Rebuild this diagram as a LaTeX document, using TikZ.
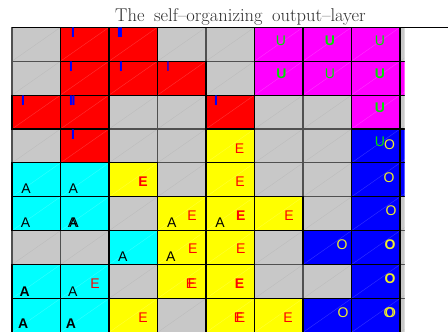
\documentclass[tikz,border=0pt]{standalone}
\usepackage{fontspec}
\setsansfont{Liberation Sans}
\definecolor{cG}{RGB}{200,200,200}
\definecolor{cR}{RGB}{255,0,0}
\definecolor{cM}{RGB}{255,0,255}
\definecolor{cB}{RGB}{0,0,255}
\definecolor{cC}{RGB}{0,255,255}
\definecolor{cY}{RGB}{255,255,0}
\definecolor{ugreen}{RGB}{0,225,0}
\definecolor{oyellow}{RGB}{240,240,40}
\definecolor{gridgray}{RGB}{80,80,80}
\definecolor{titlegray}{RGB}{45,45,45}
\tikzset{
  kG/.style={draw=none}, kR/.style={draw=black}, kM/.style={draw=black},
  kB/.style={draw=black}, kC/.style={draw=black}, kY/.style={draw=black},
  dG/.style={draw=black, opacity=0.06}, dR/.style={draw=white, opacity=0.2},
  dM/.style={draw=white, opacity=0.2}, dB/.style={draw=white, opacity=0.2},
  dC/.style={draw=white, opacity=0.2}, dY/.style={draw=white, opacity=0.2},
}
\begin{document}
\begin{tikzpicture}[x=1pt,y=-1pt,
  lab/.style={inner sep=0pt, font=\fontsize{14}{14}\selectfont\sffamily},
  labB/.style={inner sep=0pt, font=\fontsize{14}{14}\selectfont\sffamily\bfseries},
  ilab/.style={labB, text=cB, anchor=north},
  ilabN/.style={lab, text=cB, anchor=north},
  ulab/.style={lab, text=ugreen}, ulabB/.style={labB, text=ugreen},
  olab/.style={lab, text=oyellow}, olabB/.style={labB, text=oyellow},
  elab/.style={lab, text=cR}, elabB/.style={labB, text=cR},
  alab/.style={lab, text=black}, alabB/.style={labB, text=black}]
\useasboundingbox (0,0) rectangle (448,332);

% title
\node[anchor=base, inner sep=0pt, text=titlegray,
      font=\fontsize{18.5}{22}\selectfont] (title) at (240.5,21.5)
  {The\hspace{9.5pt}self–organizing\hspace{9.5pt}output–layer};

% map cells: fill, diagonal, borders (last column is cut at the right)
\begin{scope}
\clip (0,20) rectangle (404.5,340);
\foreach \r/\row in {1/{G,R,R,G,G,M,M,M,G},
                     2/{G,R,R,R,G,M,M,M,M},
                     3/{R,R,G,G,R,G,G,M,G},
                     4/{G,R,G,G,Y,G,G,B,B},
                     5/{C,C,Y,G,Y,G,G,B,B},
                     6/{C,C,G,Y,Y,Y,G,B,G},
                     7/{G,G,C,Y,Y,G,B,B,G},
                     8/{C,C,G,Y,Y,G,G,B,G},
                     9/{C,C,Y,G,Y,Y,B,B,G}} {
  \foreach \k [count=\c] in \row {
    \pgfmathsetmacro\xa{12+(\c-1)*48.5}
    \pgfmathsetmacro\ya{27.3+(\r-1)*33.9}
    \fill[c\k] (\xa,\ya) rectangle ++(48.5,33.9);
    \draw[d\k, line width=0.4pt] (\xa,\ya+33.9) -- ++(48.5,-33.9);
  }
}
\foreach \r in {1,...,9} {
  \foreach \c in {1,...,9} {
    \pgfmathsetmacro\xa{12+(\c-1)*48.5}
    \pgfmathsetmacro\ya{27.3+(\r-1)*33.9}
    \draw[gridgray, line width=1.1pt] (\xa,\ya) rectangle ++(48.5,33.9);
  }
}
\foreach \r/\row in {1/{G,R,R,G,G,M,M,M,G},
                     2/{G,R,R,R,G,M,M,M,M},
                     3/{R,R,G,G,R,G,G,M,G},
                     4/{G,R,G,G,Y,G,G,B,B},
                     5/{C,C,Y,G,Y,G,G,B,B},
                     6/{C,C,G,Y,Y,Y,G,B,G},
                     7/{G,G,C,Y,Y,G,B,B,G},
                     8/{C,C,G,Y,Y,G,G,B,G},
                     9/{C,C,Y,G,Y,Y,B,B,G}} {
  \foreach \k [count=\c] in \row {
    \pgfmathsetmacro\xa{12+(\c-1)*48.5}
    \pgfmathsetmacro\ya{27.3+(\r-1)*33.9}
    \path[k\k, line width=1.1pt] (\xa,\ya) rectangle ++(48.5,33.9);
  }
}
\end{scope}
\draw[black, line width=1.1pt] (12,27.3) -- (448,27.3);

% I labels (blue), hanging from the top of their cells
\node[ilab] (i12) at (73,27.6) {I};
\node[ilab] (i13a) at (119,27.6) {I};
\node[ilab] (i13b) at (121,27.6) {I};
\node[ilab] (i22) at (71,61.6) {I};
\node[ilab] (i23) at (121,61.6) {I};
\node[ilabN] (i24) at (168,61.6) {I};
\node[ilab] (i31) at (23,95.5) {I};
\node[ilab] (i32a) at (71,95.5) {I};
\node[ilab] (i32b) at (73.5,95.5) {I};
\node[ilab] (i35) at (216,95.5) {I};
\node[ilab] (i42) at (73,129.4) {I};

% U labels (green)
\node[ulab]  (u16) at (281,41) {U};
\node[ulabB] (u17) at (330,41) {U};
\node[ulab]  (u18) at (380,40.5) {U};
\node[ulabB] (u26) at (281.5,74) {U};
\node[ulab]  (u27) at (330,74) {U};
\node[ulabB] (u28) at (380,74) {U};
\node[ulabB] (u38) at (380,108) {U};
\node[ulab]  (u48) at (380,142) {U};

% O labels (yellow)
\node[olab]  (o48) at (389.5,145) {O};
\node[olab]  (o58) at (389,178) {O};
\node[olab]  (o68) at (391,211) {O};
\node[olab]  (o77) at (342,244.5) {O};
\node[olabB] (o78) at (390,245) {O};
\node[olabB] (o88) at (390,279) {O};
\node[olab]  (o97) at (343,312.7) {O};
\node[olab]  (o98a) at (389,313) {O};
\node[olab]  (o98b) at (390.5,313) {O};

% E labels (red)
\node[elab]  (e45) at (239.5,149) {E};
\node[elabB] (e53) at (143,182) {E};
\node[elab]  (e55) at (240,182) {E};
\node[elab]  (e64) at (192,215.7) {E};
\node[elabB] (e65) at (240.7,215.7) {E};
\node[elab]  (e66) at (289,215.7) {E};
\node[elab]  (e74) at (192.7,249) {E};
\node[elab]  (e75) at (240.7,249) {E};
\node[elab]  (e82) at (95,284) {E};
\node[elab]  (e84a) at (190.5,284) {E};
\node[elab]  (e84b) at (192.5,284) {E};
\node[elabB] (e85) at (239.5,284) {E};
\node[elab]  (e93) at (143,318) {E};
\node[elab]  (e95a) at (238.5,318) {E};
\node[elab]  (e95b) at (240.5,318) {E};
\node[elab]  (e96) at (288,318) {E};

% A labels (black)
\node[alab]  (a51) at (26,189) {A};
\node[alab]  (a52) at (73.3,189) {A};
\node[alab]  (a61) at (25.5,223) {A};
\node[alab]  (a62a) at (72.5,223) {A};
\node[alab]  (a62b) at (74,223) {A};
\node[alab]  (a64) at (171.7,223) {A};
\node[alab]  (a65) at (220,223) {A};
\node[alab]  (a73) at (122.7,257) {A};
\node[alab]  (a74) at (170.7,257) {A};
\node[alabB] (a81) at (24.7,291.5) {A};
\node[alab]  (a82) at (72.7,291.5) {A};
\node[alabB] (a91) at (23.3,324) {A};
\node[alabB] (a92) at (71,324) {A};
\end{tikzpicture}
\end{document}
